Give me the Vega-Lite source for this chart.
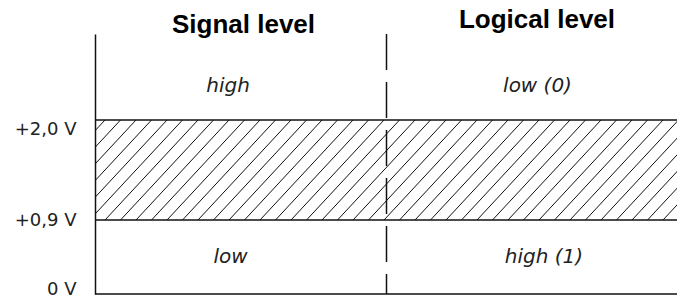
{
  "$schema": "https://vega.github.io/schema/vega-lite/v6.json",
  "width": 582,
  "height": 260,
  "autosize": {"type": "none"},
  "padding": {"left": 95, "top": 34, "right": 0, "bottom": 3},
  "background": "white",
  "config": {"view": {"stroke": null}, "font": "Liberation Sans"},
  "resolve": {"axis": {"x": "independent", "y": "independent"}},
  "datasets": {
    "hatch": [
      {"x_low": -83, "x_high": 10, "v_low": 74, "v_high": 174},
      {"x_low": -67.5, "x_high": 25.5, "v_low": 74, "v_high": 174},
      {"x_low": -52, "x_high": 41, "v_low": 74, "v_high": 174},
      {"x_low": -36.5, "x_high": 56.5, "v_low": 74, "v_high": 174},
      {"x_low": -21, "x_high": 72, "v_low": 74, "v_high": 174},
      {"x_low": -5.5, "x_high": 87.5, "v_low": 74, "v_high": 174},
      {"x_low": 10, "x_high": 103, "v_low": 74, "v_high": 174},
      {"x_low": 25.5, "x_high": 118.5, "v_low": 74, "v_high": 174},
      {"x_low": 41, "x_high": 134, "v_low": 74, "v_high": 174},
      {"x_low": 56.5, "x_high": 149.5, "v_low": 74, "v_high": 174},
      {"x_low": 72, "x_high": 165, "v_low": 74, "v_high": 174},
      {"x_low": 87.5, "x_high": 180.5, "v_low": 74, "v_high": 174},
      {"x_low": 103, "x_high": 196, "v_low": 74, "v_high": 174},
      {"x_low": 118.5, "x_high": 211.5, "v_low": 74, "v_high": 174},
      {"x_low": 134, "x_high": 227, "v_low": 74, "v_high": 174},
      {"x_low": 149.5, "x_high": 242.5, "v_low": 74, "v_high": 174},
      {"x_low": 165, "x_high": 258, "v_low": 74, "v_high": 174},
      {"x_low": 180.5, "x_high": 273.5, "v_low": 74, "v_high": 174},
      {"x_low": 196, "x_high": 289, "v_low": 74, "v_high": 174},
      {"x_low": 211.5, "x_high": 304.5, "v_low": 74, "v_high": 174},
      {"x_low": 227, "x_high": 320, "v_low": 74, "v_high": 174},
      {"x_low": 242.5, "x_high": 335.5, "v_low": 74, "v_high": 174},
      {"x_low": 258, "x_high": 351, "v_low": 74, "v_high": 174},
      {"x_low": 273.5, "x_high": 366.5, "v_low": 74, "v_high": 174},
      {"x_low": 289, "x_high": 382, "v_low": 74, "v_high": 174},
      {"x_low": 304.5, "x_high": 397.5, "v_low": 74, "v_high": 174},
      {"x_low": 320, "x_high": 413, "v_low": 74, "v_high": 174},
      {"x_low": 335.5, "x_high": 428.5, "v_low": 74, "v_high": 174},
      {"x_low": 351, "x_high": 444, "v_low": 74, "v_high": 174},
      {"x_low": 366.5, "x_high": 459.5, "v_low": 74, "v_high": 174},
      {"x_low": 382, "x_high": 475, "v_low": 74, "v_high": 174},
      {"x_low": 397.5, "x_high": 490.5, "v_low": 74, "v_high": 174},
      {"x_low": 413, "x_high": 506, "v_low": 74, "v_high": 174},
      {"x_low": 428.5, "x_high": 521.5, "v_low": 74, "v_high": 174},
      {"x_low": 444, "x_high": 537, "v_low": 74, "v_high": 174},
      {"x_low": 459.5, "x_high": 552.5, "v_low": 74, "v_high": 174},
      {"x_low": 475, "x_high": 568, "v_low": 74, "v_high": 174},
      {"x_low": 490.5, "x_high": 583.5, "v_low": 74, "v_high": 174},
      {"x_low": 506, "x_high": 599, "v_low": 74, "v_high": 174},
      {"x_low": 521.5, "x_high": 614.5, "v_low": 74, "v_high": 174},
      {"x_low": 537, "x_high": 630, "v_low": 74, "v_high": 174},
      {"x_low": 552.5, "x_high": 645.5, "v_low": 74, "v_high": 174},
      {"x_low": 568, "x_high": 661, "v_low": 74, "v_high": 174}
    ],
    "levels": [
      {"level": "0 V", "pos": 0},
      {"level": "+0,9 V", "pos": 74},
      {"level": "+2,0 V", "pos": 174}
    ],
    "divider": [
      {"x": 291.5, "top": 260, "bottom": 0}
    ],
    "states": [
      {"label": "high", "x": 133, "y": 202},
      {"label": "low (0)", "x": 442.5, "y": 202},
      {"label": "low", "x": 135.5, "y": 31},
      {"label": "high (1)", "x": 449, "y": 31}
    ]
  },
  "layer": [
    {
      "data": {"name": "hatch"},
      "mark": {"type": "rule", "clip": true, "color": "#111111", "strokeWidth": 1},
      "encoding": {
        "x": {"field": "x_low", "type": "quantitative", "scale": {"domain": [0, 582], "nice": false, "zero": false}, "axis": null},
        "x2": {"field": "x_high"},
        "y": {"field": "v_low", "type": "quantitative", "scale": {"domain": [0, 260], "nice": false, "zero": false}, "axis": null},
        "y2": {"field": "v_high"}
      }
    },
    {
      "data": {"name": "levels"},
      "mark": {"type": "rule", "color": "#111111", "strokeWidth": 1.5},
      "encoding": {
        "y": {
          "field": "pos",
          "type": "quantitative",
          "axis": {
            "orient": "left",
            "values": [0, 74, 174],
            "labelExpr": "datum.value == 174 ? '+2,0 V' : datum.value == 74 ? '+0,9 V' : '0 V'",
            "title": null,
            "grid": false,
            "ticks": false,
            "domain": true,
            "domainColor": "#111111",
            "domainWidth": 1.5,
            "labelPadding": 19,
            "labelFontSize": 18,
            "labelFont": "DejaVu Sans",
            "labelColor": "#222222",
            "labelAlign": "right",
            "labelBaseline": {
              "condition": [
                {"test": "datum.value == 174", "value": "top"},
                {"test": "datum.value == 0", "value": "alphabetic"}
              ],
              "value": "middle"
            }
          }
        }
      }
    },
    {
      "data": {"name": "divider"},
      "mark": {"type": "rule", "color": "#111111", "strokeWidth": 1.5, "strokeDash": [36, 12]},
      "encoding": {
        "x": {"field": "x", "type": "quantitative", "axis": null},
        "y": {"field": "top", "type": "quantitative", "axis": null},
        "y2": {"field": "bottom"}
      }
    },
    {
      "data": {"name": "states"},
      "mark": {"type": "text", "fontStyle": "italic", "fontSize": 20, "font": "DejaVu Sans", "color": "#222222", "align": "center", "baseline": "alphabetic"},
      "encoding": {
        "x": {
          "field": "x",
          "type": "quantitative",
          "axis": {
            "orient": "top",
            "values": [148, 441.5],
            "labelExpr": "datum.value < 300 ? 'Signal level' : 'Logical level'",
            "title": null,
            "grid": false,
            "ticks": false,
            "domain": false,
            "labelFontSize": 26,
            "labelFontWeight": "bold",
            "labelFont": "Liberation Sans",
            "labelColor": "#000000",
            "labelBaseline": {
              "condition": {"test": "datum.value > 300", "value": "bottom"},
              "value": "alphabetic"
            },
            "labelPadding": 1.5,
            "labelFlush": false,
            "labelOverlap": false
          }
        },
        "y": {"field": "y", "type": "quantitative", "axis": null},
        "text": {"field": "label"}
      }
    }
  ]
}
